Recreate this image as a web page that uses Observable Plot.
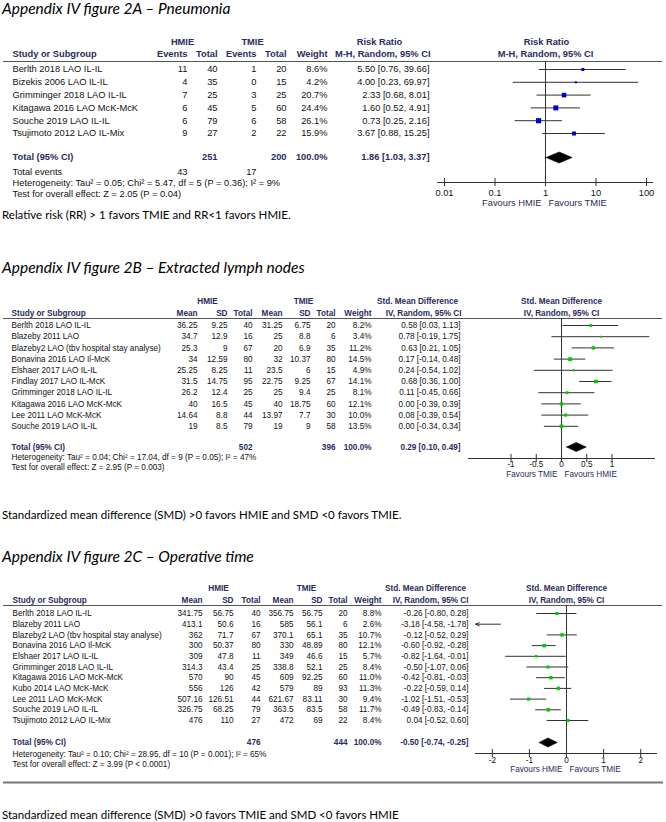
<!DOCTYPE html>
<html><head><meta charset="utf-8">
<script src="https://cdn.jsdelivr.net/npm/d3@7"></script>
<script src="https://cdn.jsdelivr.net/npm/@observablehq/plot@0.6"></script>
<style>
body{margin:0;background:#fff;width:666px;height:822px;position:relative;overflow:hidden}
.t{position:absolute;left:2px;font-family:Lato,"Open Sans",sans-serif;font-style:italic;font-size:15.5px;color:#000;white-space:nowrap;line-height:1}
.c{position:absolute;left:2px;font-family:Lato,"Open Sans",sans-serif;font-size:11.5px;color:#000;white-space:nowrap;line-height:1}
.p{position:absolute;left:0}
</style></head><body>
<div class="t" style="top:1px">Appendix IV figure 2A – Pneumonia</div>
<div class="p" id="pA"></div>
<div class="c" style="top:209px">Relative risk (RR) &gt; 1 favors TMIE and RR&lt;1 favors HMIE.</div>
<div class="t" style="top:260px">Appendix IV figure 2B – Extracted lymph nodes</div>
<div class="p" id="pB"></div>
<div class="c" style="top:509px">Standardized mean difference (SMD) &gt;0 favors HMIE and SMD &lt;0 favors TMIE.</div>
<div class="t" style="top:549px">Appendix IV figure 2C – Operative time</div>
<div class="p" id="pC"></div>
<div class="c" style="top:809px">Standardized mean difference (SMD) &gt;0 favors TMIE and SMD &lt;0 favors HMIE</div>
<script>
// ---------- Panel A data (Pneumonia) ----------
const studiesA = ["Berlth 2018 LAO IL-IL","Bizekis 2006 LAO IL-IL","Grimminger 2018 LAO IL-IL","Kitagawa 2016 LAO McK-McK","Souche 2019 LAO IL-IL","Tsujimoto 2012 LAO IL-Mix"];
const hmieEventsA = [11,4,7,6,6,9];
const hmieTotalA = [40,35,25,45,79,27];
const tmieEventsA = [1,0,3,5,6,2];
const tmieTotalA = [20,15,25,60,58,22];
const weightA = [8.6,4.2,20.7,24.4,26.1,15.9];
const rrA = [5.50,4.00,2.33,1.60,0.73,3.67];
const rrLoA = [0.76,0.23,0.68,0.52,0.25,0.88];
const rrHiA = [39.66,69.97,8.01,4.91,2.16,15.25];
const totalA = {hmieTotal:251, tmieTotal:200, hmieEvents:43, tmieEvents:17, est:1.86, lo:1.03, hi:3.37};
const hetA = "Heterogeneity: Tau² = 0.05; Chi² = 5.47, df = 5 (P = 0.36); I² = 9%";
const testA = "Test for overall effect: Z = 2.05 (P = 0.04)";
const ticksA = [0.01,0.1,1,10,100];

// ---------- Panel B data (Extracted lymph nodes) ----------
const studiesB = ["Berlth 2018 LAO IL-IL","Blazeby 2011 LAO","Blazeby2 LAO (tbv hospital stay analyse)","Bonavina 2016 LAO Il-McK","Elshaer 2017 LAO IL-IL","Findlay 2017 LAO IL-McK","Grimminger 2018 LAO IL-IL","Kitagawa 2016 LAO McK-McK","Lee 2011 LAO McK-McK","Souche 2019 LAO IL-IL"];
const hmieMeanB = [36.25,34.7,25.3,34,25.25,31.5,26.2,40,14.64,19];
const hmieSdB = [9.25,12.9,9,12.59,8.25,14.75,12.4,16.5,8.8,8.5];
const hmieTotalB = [40,16,67,80,11,95,25,45,44,79];
const tmieMeanB = [31.25,25,20,32,23.5,22.75,25,40,13.97,19];
const tmieSdB = [6.75,8.8,6.9,10.37,6,9.25,9.4,18.75,7.7,9];
const tmieTotalB = [20,6,35,80,15,67,25,60,30,58];
const weightB = [8.2,3.4,11.2,14.5,4.9,14.1,8.1,12.1,10.0,13.5];
const smdB = [0.58,0.78,0.63,0.17,0.24,0.68,0.11,0.00,0.08,0.00];
const smdLoB = [0.03,-0.19,0.21,-0.14,-0.54,0.36,-0.45,-0.39,-0.39,-0.34];
const smdHiB = [1.13,1.75,1.05,0.48,1.02,1.00,0.66,0.39,0.54,0.34];
const totalB = {hmieTotal:502, tmieTotal:396, est:0.29, lo:0.10, hi:0.49};
const hetB = "Heterogeneity: Tau² = 0.04; Chi² = 17.04, df = 9 (P = 0.05); I² = 47%";
const testB = "Test for overall effect: Z = 2.95 (P = 0.003)";
const ticksB = [-1,-0.5,0,0.5,1];

// ---------- Panel C data (Operative time) ----------
const studiesC = ["Berlth 2018 LAO IL-IL","Blazeby 2011 LAO","Blazeby2 LAO (tbv hospital stay analyse)","Bonavina 2016 LAO Il-McK","Elshaer 2017 LAO IL-IL","Grimminger 2018 LAO IL-IL","Kitagawa 2016 LAO McK-McK","Kubo 2014 LAO McK-McK","Lee 2011 LAO McK-McK","Souche 2019 LAO IL-IL","Tsujimoto 2012 LAO IL-Mix"];
const hmieMeanC = [341.75,413.1,362,300,309,314.3,570,556,507.16,326.75,476];
const hmieSdC = [56.75,50.6,71.7,50.37,47.8,43.4,90,126,126.51,68.25,110];
const hmieTotalC = [40,16,67,80,11,25,45,42,44,79,27];
const tmieMeanC = [356.75,585,370.1,330,349,338.8,609,579,621.67,363.5,472];
const tmieSdC = [56.75,56.1,65.1,48.89,46.6,52.1,92.25,89,83.11,83.5,69];
const tmieTotalC = [20,6,35,80,15,25,60,93,30,58,22];
const weightC = [8.8,2.6,10.7,12.1,5.7,8.4,11.0,11.3,9.4,11.7,8.4];
const smdC = [-0.26,-3.18,-0.12,-0.60,-0.82,-0.50,-0.42,-0.22,-1.02,-0.49,0.04];
const smdLoC = [-0.80,-4.58,-0.52,-0.92,-1.64,-1.07,-0.81,-0.59,-1.51,-0.83,-0.52];
const smdHiC = [0.28,-1.78,0.29,-0.28,-0.01,0.06,-0.03,0.14,-0.53,-0.14,0.60];
const totalC = {hmieTotal:476, tmieTotal:444, est:-0.50, lo:-0.74, hi:-0.25};
const hetC = "Heterogeneity: Tau² = 0.10; Chi² = 28.95, df = 10 (P = 0.001); I² = 65%";
const testC = "Test for overall effect: Z = 3.99 (P < 0.0001)";
const ticksC = [-2,-1,0,1,2];

// ---------- helpers ----------
const HEAD = "#2b2b5c";
const TXT = "#111";
const LINE = "#333";
const f2 = v => v.toFixed(2);
const ci = (e,l,h) => `${f2(e)} [${f2(l)}, ${f2(h)}]`;
const pct = w => w.toFixed(1) + "%";

function panel(cfg) {
  const {top, height, fs, rows, cols, heads, rowY0, gap, lineY, axisY, tickY, favY, favL, favR,
         x, ticks, nullV, color, rMaxW, rMax, total, totalY, half, bottomLineY} = cfg;
  const data = rows.map((d, i) => ({...d, y: rowY0 + i * gap}));
  const [d0, d1] = x.domain;
  const inside = d => d.lo >= d0 && d.hi <= d1;
  const marks = [];
  marks.push(Plot.ruleY([lineY], {stroke: "#555", strokeWidth: 1.2, insetLeft: 3, insetRight: 4}));
  if (bottomLineY) marks.push(Plot.ruleY([bottomLineY], {stroke: "#777", strokeWidth: 2, insetLeft: 3, insetRight: 3}));
  for (const c of cols) {
    marks.push(Plot.text(data, {y: "y", text: c.get, frameAnchor: "left", dx: c.x, textAnchor: c.a, fontSize: fs, fill: TXT}));
  }
  for (const h of heads) {
    marks.push(Plot.text([h.t], {y: h.y, text: d => d, frameAnchor: "left", dx: h.x, textAnchor: h.a,
      fontSize: fs, fontWeight: h.b ? "bold" : "normal", fill: h.b ? HEAD : TXT}));
  }
  // forest plot
  marks.push(Plot.ruleX([nullV], {y1: lineY, y2: axisY, stroke: LINE}));
  marks.push(Plot.ruleY(data.filter(inside), {y: "y", x1: "lo", x2: "hi", stroke: LINE}));
  const outs = data.filter(d => !inside(d) && d.hi < d0 === false && d.lo < d0);
  marks.push(Plot.arrow(outs, {x1: "hi", y1: "y", x2: d0, y2: "y", stroke: LINE, headLength: 6, headAngle: 45, strokeWidth: 1}));
  marks.push(Plot.dot(data.filter(d => d.est >= d0 && d.est <= d1), {x: "est", y: "y", r: "w", symbol: "square", fill: color, stroke: null}));
  marks.push(Plot.line([
    {x: total.lo, y: totalY}, {x: total.est, y: totalY - half}, {x: total.hi, y: totalY},
    {x: total.est, y: totalY + half}, {x: total.lo, y: totalY}
  ], {x: "x", y: "y", fill: "black", stroke: "black", strokeWidth: 0.6}));
  // axis
  marks.push(Plot.ruleY([axisY], {x1: d0, x2: d1, stroke: LINE}));
  marks.push(Plot.ruleX(ticks, {x: d => d, y1: axisY - 4, y2: axisY + 4, stroke: LINE}));
  marks.push(Plot.text(ticks, {x: d => d, y: tickY, text: d => String(d), fontSize: fs, fill: TXT}));
  marks.push(Plot.text([favL], {x: nullV, y: favY, text: d => d, textAnchor: "end", dx: -4, fontSize: fs, fill: HEAD}));
  marks.push(Plot.text([favR], {x: nullV, y: favY, text: d => d, textAnchor: "start", dx: 3, fontSize: fs, fill: HEAD}));

  const svg = Plot.plot({
    width: 666, height,
    marginLeft: 0, marginRight: 0, marginTop: 0, marginBottom: 0,
    style: {fontFamily: "'Liberation Sans', Arial, sans-serif", background: "transparent", overflow: "visible"},
    x: {type: x.type, domain: x.domain, range: x.range, axis: null},
    y: {type: "linear", domain: [top, top + height], range: [0, height], axis: null},
    r: {type: "sqrt", domain: [0, rMaxW], range: [0, rMax]},
    marks
  });
  return svg;
}

// ---------- Panel A ----------
{
  const rows = studiesA.map((s, i) => ({study: s, he: hmieEventsA[i], ht: hmieTotalA[i], te: tmieEventsA[i], tt: tmieTotalA[i],
    w: weightA[i], est: rrA[i], lo: rrLoA[i], hi: rrHiA[i]}));
  const h1 = 42, h2 = 54, tY = 157;
  const el = document.getElementById("pA");
  el.style.top = "34px";
  el.appendChild(panel({
    top: 34, height: 176, fs: 9.3, rows,
    rowY0: 69, gap: 12.8, lineY: 61, axisY: 182, tickY: 192.5, favY: 203,
    favL: "Favours HMIE", favR: "Favours TMIE",
    x: {type: "log", domain: [0.00727, 137.6], range: [437, 653]},
    ticks: ticksA, nullV: 1, color: "#0000cc", rMaxW: 26.1, rMax: 2.9,
    total: totalA, totalY: tY, half: 5.5,
    cols: [
      {x: 12, a: "start", get: d => d.study},
      {x: 187, a: "end", get: d => String(d.he)},
      {x: 217, a: "end", get: d => String(d.ht)},
      {x: 256, a: "end", get: d => String(d.te)},
      {x: 286, a: "end", get: d => String(d.tt)},
      {x: 327, a: "end", get: d => pct(d.w)},
      {x: 429, a: "end", get: d => ci(d.est, d.lo, d.hi)}
    ],
    heads: [
      {t: "HMIE", x: 182, a: "middle", y: h1, b: true},
      {t: "TMIE", x: 252, a: "middle", y: h1, b: true},
      {t: "Risk Ratio", x: 379, a: "middle", y: h1, b: true},
      {t: "Risk Ratio", x: 546, a: "middle", y: h1, b: true},
      {t: "Study or Subgroup", x: 12, a: "start", y: h2, b: true},
      {t: "Events", x: 187, a: "end", y: h2, b: true},
      {t: "Total", x: 217, a: "end", y: h2, b: true},
      {t: "Events", x: 256, a: "end", y: h2, b: true},
      {t: "Total", x: 286, a: "end", y: h2, b: true},
      {t: "Weight", x: 327, a: "end", y: h2, b: true},
      {t: "M-H, Random, 95% CI", x: 430, a: "end", y: h2, b: true},
      {t: "M-H, Random, 95% CI", x: 545, a: "middle", y: h2, b: true},
      {t: "Total (95% CI)", x: 12, a: "start", y: tY, b: true},
      {t: String(totalA.hmieTotal), x: 217, a: "end", y: tY, b: true},
      {t: String(totalA.tmieTotal), x: 286, a: "end", y: tY, b: true},
      {t: "100.0%", x: 327, a: "end", y: tY, b: true},
      {t: ci(totalA.est, totalA.lo, totalA.hi), x: 429, a: "end", y: tY, b: true},
      {t: "Total events", x: 12, a: "start", y: 172},
      {t: String(totalA.hmieEvents), x: 187, a: "end", y: 172},
      {t: String(totalA.tmieEvents), x: 256, a: "end", y: 172},
      {t: hetA, x: 12, a: "start", y: 183},
      {t: testA, x: 12, a: "start", y: 193.5}
    ]
  }));
}

// ---------- Panel B ----------
{
  const rows = studiesB.map((s, i) => ({study: s, hm: hmieMeanB[i], hs: hmieSdB[i], ht: hmieTotalB[i],
    tm: tmieMeanB[i], ts: tmieSdB[i], tt: tmieTotalB[i], w: weightB[i], est: smdB[i], lo: smdLoB[i], hi: smdHiB[i]}));
  const h1 = 301, h2 = 312.5, tY = 446.5;
  const el = document.getElementById("pB");
  el.style.top = "292px";
  el.appendChild(panel({
    top: 292, height: 190, fs: 8.2, rows,
    rowY0: 325, gap: 11.2, lineY: 318, axisY: 458, tickY: 464, favY: 474,
    favL: "Favours TMIE", favR: "Favours HMIE",
    x: {type: "linear", domain: [-1.842, 1.861], range: [468, 655]},
    ticks: ticksB, nullV: 0, color: "#00cc00", rMaxW: 14.5, rMax: 2.15,
    total: totalB, totalY: tY, half: 4.5,
    cols: [
      {x: 11, a: "start", get: d => d.study},
      {x: 197, a: "end", get: d => String(d.hm)},
      {x: 227, a: "end", get: d => String(d.hs)},
      {x: 252, a: "end", get: d => String(d.ht)},
      {x: 282, a: "end", get: d => String(d.tm)},
      {x: 310, a: "end", get: d => String(d.ts)},
      {x: 335, a: "end", get: d => String(d.tt)},
      {x: 371, a: "end", get: d => pct(d.w)},
      {x: 460, a: "end", get: d => ci(d.est, d.lo, d.hi)}
    ],
    heads: [
      {t: "HMIE", x: 207, a: "middle", y: h1, b: true},
      {t: "TMIE", x: 303, a: "middle", y: h1, b: true},
      {t: "Std. Mean Difference", x: 417, a: "middle", y: h1, b: true},
      {t: "Std. Mean Difference", x: 561, a: "middle", y: h1, b: true},
      {t: "Study or Subgroup", x: 11, a: "start", y: h2, b: true},
      {t: "Mean", x: 197, a: "end", y: h2, b: true},
      {t: "SD", x: 227, a: "end", y: h2, b: true},
      {t: "Total", x: 252, a: "end", y: h2, b: true},
      {t: "Mean", x: 282, a: "end", y: h2, b: true},
      {t: "SD", x: 310, a: "end", y: h2, b: true},
      {t: "Total", x: 335, a: "end", y: h2, b: true},
      {t: "Weight", x: 371, a: "end", y: h2, b: true},
      {t: "IV, Random, 95% CI", x: 461, a: "end", y: h2, b: true},
      {t: "IV, Random, 95% CI", x: 561, a: "middle", y: h2, b: true},
      {t: "Total (95% CI)", x: 11, a: "start", y: tY, b: true},
      {t: String(totalB.hmieTotal), x: 252, a: "end", y: tY, b: true},
      {t: String(totalB.tmieTotal), x: 335, a: "end", y: tY, b: true},
      {t: "100.0%", x: 371, a: "end", y: tY, b: true},
      {t: ci(totalB.est, totalB.lo, totalB.hi), x: 460, a: "end", y: tY, b: true},
      {t: hetB, x: 11, a: "start", y: 457},
      {t: testB, x: 11, a: "start", y: 467}
    ]
  }));
}

// ---------- Panel C ----------
{
  const rows = studiesC.map((s, i) => ({study: s, hm: hmieMeanC[i], hs: hmieSdC[i], ht: hmieTotalC[i],
    tm: tmieMeanC[i], ts: tmieSdC[i], tt: tmieTotalC[i], w: weightC[i], est: smdC[i], lo: smdLoC[i], hi: smdHiC[i]}));
  const h1 = 588, h2 = 600, tY = 742;
  const el = document.getElementById("pC");
  el.style.top = "580px";
  el.appendChild(panel({
    top: 580, height: 205, fs: 8.2, rows,
    rowY0: 613, gap: 10.7, lineY: 605, axisY: 753, tickY: 759.5, favY: 768.5, bottomLineY: 782,
    favL: "Favours HMIE", favR: "Favours TMIE",
    x: {type: "linear", domain: [-2.453, 2.453], range: [475, 657]},
    ticks: ticksC, nullV: 0, color: "#00cc00", rMaxW: 12.1, rMax: 2.05,
    total: totalC, totalY: tY, half: 4.5,
    cols: [
      {x: 12, a: "start", get: d => d.study},
      {x: 202, a: "end", get: d => String(d.hm)},
      {x: 233, a: "end", get: d => String(d.hs)},
      {x: 260, a: "end", get: d => String(d.ht)},
      {x: 293, a: "end", get: d => String(d.tm)},
      {x: 322, a: "end", get: d => String(d.ts)},
      {x: 347, a: "end", get: d => String(d.tt)},
      {x: 381, a: "end", get: d => pct(d.w)},
      {x: 468, a: "end", get: d => ci(d.est, d.lo, d.hi)}
    ],
    heads: [
      {t: "HMIE", x: 218, a: "middle", y: h1, b: true},
      {t: "TMIE", x: 306, a: "middle", y: h1, b: true},
      {t: "Std. Mean Difference", x: 425, a: "middle", y: h1, b: true},
      {t: "Std. Mean Difference", x: 566, a: "middle", y: h1, b: true},
      {t: "Study or Subgroup", x: 12, a: "start", y: h2, b: true},
      {t: "Mean", x: 202, a: "end", y: h2, b: true},
      {t: "SD", x: 233, a: "end", y: h2, b: true},
      {t: "Total", x: 260, a: "end", y: h2, b: true},
      {t: "Mean", x: 293, a: "end", y: h2, b: true},
      {t: "SD", x: 322, a: "end", y: h2, b: true},
      {t: "Total", x: 347, a: "end", y: h2, b: true},
      {t: "Weight", x: 381, a: "end", y: h2, b: true},
      {t: "IV, Random, 95% CI", x: 468, a: "end", y: h2, b: true},
      {t: "IV, Random, 95% CI", x: 566, a: "middle", y: h2, b: true},
      {t: "Total (95% CI)", x: 12, a: "start", y: tY, b: true},
      {t: String(totalC.hmieTotal), x: 260, a: "end", y: tY, b: true},
      {t: String(totalC.tmieTotal), x: 347, a: "end", y: tY, b: true},
      {t: "100.0%", x: 381, a: "end", y: tY, b: true},
      {t: ci(totalC.est, totalC.lo, totalC.hi), x: 468, a: "end", y: tY, b: true},
      {t: hetC, x: 12, a: "start", y: 754},
      {t: testC, x: 12, a: "start", y: 764}
    ]
  }));
}
</script>
</body></html>
